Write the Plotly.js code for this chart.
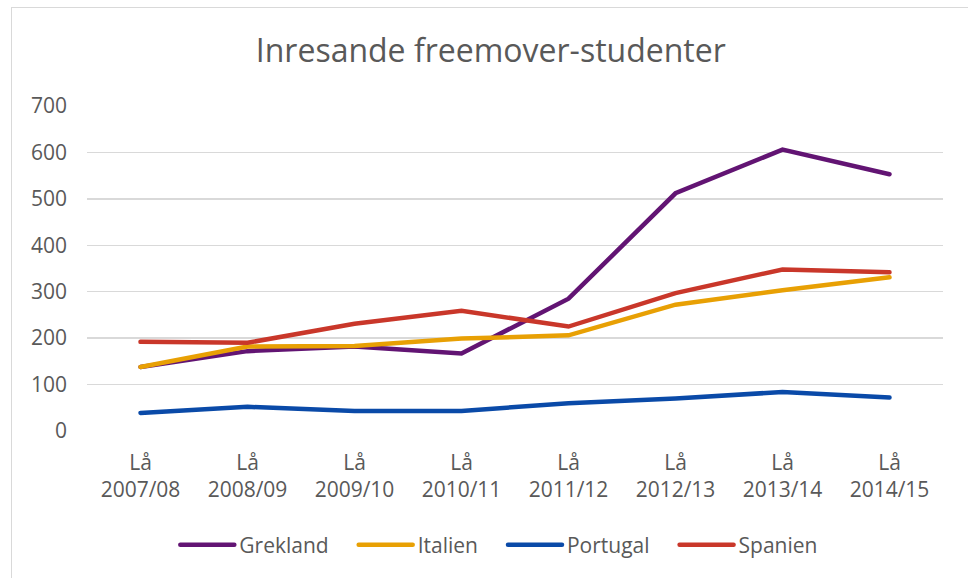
<!DOCTYPE html>
<html>
<head>
<meta charset="utf-8">
<script src="https://cdn.plot.ly/plotly-3.0.1.min.js"></script>
<style>
  html, body { margin: 0; padding: 0; background: #fff; overflow: hidden; }
  #frame { position: absolute; left: 11px; top: 7px; width: 1000px; height: 620px;
           border-left: 1px solid #d9d9d9; border-top: 1px solid #d9d9d9; pointer-events: none; }
  #chart { position: absolute; left: 0; top: 0; width: 968px; height: 578px; }
  #chart .scatterlayer .js-line, #chart .legend .legendlines path { stroke-linecap: round; }
</style>
</head>
<body>
<div id="chart"></div>
<div id="frame"></div>
<script>
const categories = ["Lå<br>2007/08", "Lå<br>2008/09", "Lå<br>2009/10", "Lå<br>2010/11",
                    "Lå<br>2011/12", "Lå<br>2012/13", "Lå<br>2013/14", "Lå<br>2014/15"];
const grekland = [138, 172, 182, 167, 285, 512, 606, 553];
const italien  = [138, 182, 183, 199, 206, 272, 303, 331];
const portugal = [39, 52, 43, 43, 60, 70, 84, 72];
const spanien  = [192, 190, 231, 259, 225, 297, 348, 342];
const yTicks   = [0, 100, 200, 300, 400, 500, 600, 700];

const seriesNames  = ["Grekland", "Italien", "Portugal", "Spanien"];
const seriesValues = [grekland, italien, portugal, spanien];
const seriesColors = ["#621473", "#e8a004", "#0a4aa8", "#c9372a"];

const FONT = "'Open Sans', 'Noto Sans', sans-serif";

const traces = seriesNames.map((name, i) => ({
  type: "scatter",
  mode: "lines",
  name: name,
  x: categories,
  y: seriesValues[i],
  line: { color: seriesColors[i], width: 4.5 },
  hoverinfo: "skip"
}));

const layout = {
  width: 968,
  height: 578,
  margin: { l: 87, r: 25, t: 106, b: 147 },
  paper_bgcolor: "#ffffff",
  plot_bgcolor: "#ffffff",
  font: { family: FONT, color: "#595959", size: 21 },
  title: {
    text: "Inresande freemover-studenter",
    font: { family: FONT, size: 32, color: "#595959" },
    xref: "container", x: 0.507, xanchor: "center",
    yref: "container", y: 0.912, yanchor: "middle"
  },
  xaxis: {
    type: "category",
    range: [-0.5, 7.5],
    showgrid: false,
    zeroline: false,
    showline: false,
    ticks: "",
    tickfont: { family: FONT, size: 21, color: "#595959" },
    ticklabelstandoff: 17
  },
  yaxis: {
    range: [0, 700],
    tickvals: yTicks,
    showgrid: true,
    gridcolor: "#d9d9d9",
    gridwidth: 1.3,
    zeroline: false,
    showline: false,
    ticks: "",
    tickfont: { family: FONT, size: 21, color: "#595959" },
    ticklabelstandoff: 19
  },
  showlegend: true,
  legend: {
    orientation: "h",
    x: 0.470, xanchor: "center",
    y: -0.351, yanchor: "middle",
    itemwidth: 74,
    font: { family: FONT, size: 21, color: "#595959" },
    bgcolor: "rgba(0,0,0,0)"
  }
};

function stretchLegendLines() {
  document.querySelectorAll("#chart .legend .legendlines path").forEach(p => {
    p.setAttribute("d", "M25,0h54");
  });
}

Plotly.newPlot("chart", traces, layout, { staticPlot: true, displayModeBar: false })
  .then(gd => {
    stretchLegendLines();
    gd.on("plotly_afterplot", stretchLegendLines);
  });
</script>
</body>
</html>
